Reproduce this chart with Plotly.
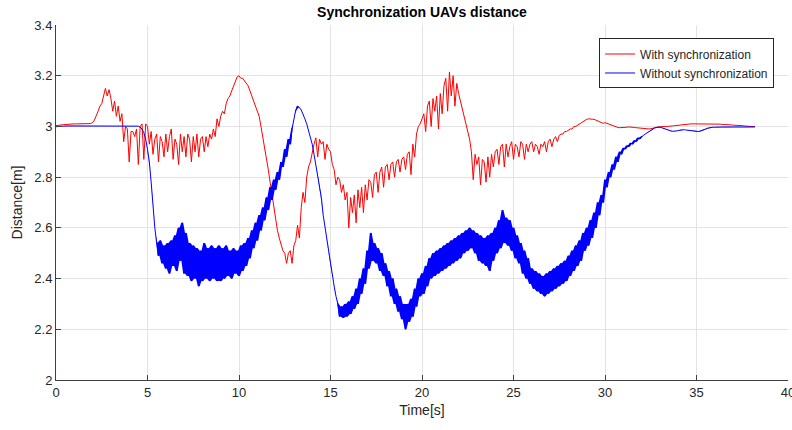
import numpy as np
import plotly.graph_objects as go

# ---------------- data (one row per second, 0.1 s sampling) ----------------
red_rows = [
    [3.003, 3.005, 3.006, 3.006, 3.007, 3.008, 3.008, 3.009, 3.009, 3.01],      # 0
    [3.01, 3.01, 3.01, 3.009, 3.009, 3.01, 3.01, 3.01, 3.011, 3.012],           # 1
    [3.015, 3.025, 3.04, 3.06, 3.08, 3.09, 3.12, 3.15, 3.12, 3.145],            # 2
    [3.11, 3.06, 3.1, 3.04, 3.08, 3.02, 3.05, 2.94, 3.0, 2.99],                 # 3
    [2.86, 2.98, 2.98, 2.96, 2.99, 2.85, 3.0, 3.01, 2.87, 3.01],                # 4
    [3.0, 2.93, 2.98, 2.89, 2.95, 2.97, 2.86, 2.96, 2.94, 2.88],                # 5
    [2.97, 2.9, 2.96, 2.99, 2.87, 2.95, 2.93, 2.85, 2.97, 2.9],                 # 6
    [2.96, 2.88, 2.97, 2.95, 2.86, 2.96, 2.9, 2.97, 2.88, 2.95],                # 7
    [2.96, 2.9, 2.96, 2.92, 2.97, 2.95, 2.99, 2.96, 3.03, 3.0],                 # 8
    [3.04, 3.06, 3.05, 3.09, 3.11, 3.12, 3.14, 3.16, 3.18, 3.195],              # 9
    [3.2, 3.19, 3.19, 3.18, 3.17, 3.16, 3.14, 3.12, 3.1, 3.08],                 # 10
    [3.065, 3.04, 3.0, 2.96, 2.91, 2.87, 2.83, 2.78, 2.73, 2.68],               # 11
    [2.64, 2.59, 2.56, 2.53, 2.51, 2.5, 2.46, 2.5, 2.51, 2.46],                 # 12
    [2.53, 2.55, 2.61, 2.56, 2.68, 2.74, 2.7, 2.8, 2.84, 2.86],                 # 13
    [2.9, 2.93, 2.955, 2.88, 2.95, 2.93, 2.94, 2.87, 2.93, 2.91],               # 14
    [2.9, 2.85, 2.83, 2.77, 2.8, 2.79, 2.74, 2.77, 2.71, 2.74],                 # 15
    [2.6, 2.72, 2.66, 2.73, 2.62, 2.75, 2.68, 2.76, 2.66, 2.77],                # 16
    [2.71, 2.79, 2.78, 2.72, 2.81, 2.82, 2.74, 2.82, 2.84, 2.76],               # 17
    [2.84, 2.85, 2.79, 2.85, 2.86, 2.8, 2.86, 2.87, 2.82, 2.87],                # 18
    [2.88, 2.83, 2.89, 2.9, 2.81, 2.93, 2.88, 2.97, 3.0, 3.01],                 # 19
    [3.03, 3.05, 2.98, 3.08, 3.1, 3.0, 3.11, 3.06, 3.12, 2.99],                 # 20
    [3.13, 3.05, 3.16, 3.19, 3.06, 3.215, 3.12, 3.2, 3.08, 3.17],               # 21
    [3.13, 3.1, 3.07, 3.04, 3.0, 2.97, 2.95, 2.9, 2.79, 2.89],                  # 22
    [2.85, 2.88, 2.77, 2.87, 2.86, 2.78, 2.88, 2.8, 2.89, 2.84],                # 23
    [2.9, 2.91, 2.85, 2.92, 2.93, 2.84, 2.93, 2.88, 2.92, 2.94],                # 24
    [2.87, 2.93, 2.92, 2.88, 2.94, 2.93, 2.87, 2.93, 2.9, 2.93],                # 25
    [2.94, 2.9, 2.93, 2.92, 2.89, 2.93, 2.92, 2.94, 2.9, 2.94],                 # 26
    [2.95, 2.92, 2.95, 2.96, 2.94, 2.965, 2.97, 2.97, 2.98, 2.98],              # 27
    [2.985, 2.99, 2.99, 3.0, 3.0, 3.005, 3.01, 3.015, 3.02, 3.025],             # 28
    [3.028, 3.03, 3.03, 3.03, 3.028, 3.025, 3.022, 3.02, 3.016, 3.012],         # 29
    [3.015, 3.012, 3.009, 3.006, 3.003, 3.0, 2.998, 2.996, 2.995, 2.995],       # 30
    [2.995, 2.996, 2.997, 2.998, 2.998, 2.997, 2.996, 2.995, 2.994, 2.993],     # 31
    [2.992, 2.991, 2.99, 2.99, 2.99, 2.991, 2.992, 2.994, 2.996, 2.998],        # 32
    [2.999, 3.0, 3.0, 3.0, 3.0, 3.0, 3.001, 3.002, 3.003, 3.004],               # 33
    [3.005, 3.006, 3.007, 3.008, 3.009, 3.01, 3.01, 3.01, 3.01, 3.01],          # 34
    [3.01, 3.01, 3.01, 3.011, 3.011, 3.011, 3.011, 3.011, 3.01, 3.01],          # 35
    [3.01, 3.01, 3.009, 3.009, 3.008, 3.008, 3.007, 3.007, 3.006, 3.006],       # 36
    [3.005, 3.005, 3.004, 3.004, 3.003, 3.003, 3.002, 3.001, 3.0, 2.999],       # 37
    [2.998, 2.999, 3.0],                                                        # 38
]

blue_rows = [
    [2.999, 3.0, 3.001, 3.001, 3.002, 3.002, 3.002, 3.002, 3.002, 3.002],       # 0
    [3.002, 3.003, 3.002, 3.003, 3.003, 3.002, 3.003, 3.002, 3.003, 3.002],     # 1
    [3.003, 3.002, 3.003, 3.002, 3.003, 3.003, 3.002, 3.003, 3.002, 3.003],     # 2
    [3.002, 3.003, 3.002, 3.003, 3.002, 3.003, 3.002, 3.003, 3.003, 3.002],     # 3
    [3.002, 3.003, 3.002, 3.003, 3.002, 3.001, 2.997, 2.99, 2.975, 2.95],       # 4
    [2.91, 2.86, 2.78, 2.68, 2.6, 2.54, 2.49, 2.55, 2.46, 2.53],                # 5
    [2.44, 2.54, 2.42, 2.55, 2.45, 2.57, 2.43, 2.6, 2.47, 2.62],                # 6
    [2.42, 2.58, 2.41, 2.54, 2.39, 2.53, 2.4, 2.52, 2.37, 2.51],                # 7
    [2.39, 2.54, 2.4, 2.52, 2.39, 2.53, 2.4, 2.52, 2.39, 2.53],                 # 8
    [2.39, 2.52, 2.4, 2.53, 2.41, 2.51, 2.4, 2.52, 2.42, 2.51],                 # 9
    [2.41, 2.53, 2.43, 2.54, 2.45, 2.56, 2.48, 2.59, 2.52, 2.62],               # 10
    [2.55, 2.65, 2.59, 2.68, 2.63, 2.72, 2.67, 2.76, 2.71, 2.79],               # 11
    [2.75, 2.82, 2.79, 2.86, 2.84, 2.91, 2.88, 2.95, 2.93, 2.99],               # 12
    [3.03, 3.065, 3.08, 3.075, 3.065, 3.05, 3.03, 3.01, 2.985, 2.96],           # 13
    [2.93, 2.89, 2.85, 2.81, 2.77, 2.72, 2.65, 2.6, 2.55, 2.5],                 # 14
    [2.45, 2.41, 2.37, 2.33, 2.3, 2.25, 2.29, 2.245, 2.3, 2.25],                # 15
    [2.31, 2.26, 2.33, 2.28, 2.36, 2.3, 2.4, 2.34, 2.44, 2.38],                 # 16
    [2.51, 2.44, 2.58, 2.47, 2.54, 2.46, 2.52, 2.43, 2.5, 2.41],                # 17
    [2.46, 2.37, 2.43, 2.33, 2.4, 2.3, 2.36, 2.27, 2.33, 2.24],                 # 18
    [2.3, 2.2, 2.3, 2.23, 2.32, 2.25, 2.36, 2.29, 2.4, 2.33],                   # 19
    [2.42, 2.34, 2.45, 2.37, 2.48, 2.4, 2.5, 2.41, 2.51, 2.42],                 # 20
    [2.52, 2.43, 2.53, 2.44, 2.54, 2.45, 2.55, 2.46, 2.56, 2.47],               # 21
    [2.57, 2.48, 2.58, 2.5, 2.59, 2.51, 2.6, 2.52, 2.59, 2.5],                  # 22
    [2.58, 2.47, 2.57, 2.46, 2.56, 2.45, 2.57, 2.43, 2.58, 2.47],               # 23
    [2.6, 2.5, 2.63, 2.52, 2.67, 2.54, 2.64, 2.53, 2.63, 2.51],                 # 24
    [2.6, 2.48, 2.57, 2.46, 2.54, 2.42, 2.51, 2.4, 2.48, 2.38],                 # 25
    [2.44, 2.36, 2.43, 2.35, 2.42, 2.34, 2.41, 2.33, 2.42, 2.34],               # 26
    [2.43, 2.35, 2.44, 2.36, 2.45, 2.37, 2.46, 2.38, 2.47, 2.39],               # 27
    [2.49, 2.41, 2.51, 2.43, 2.53, 2.45, 2.55, 2.47, 2.58, 2.51],               # 28
    [2.6, 2.53, 2.63, 2.56, 2.66, 2.6, 2.7, 2.65, 2.73, 2.7],                   # 29
    [2.79, 2.76, 2.82, 2.8, 2.85, 2.83, 2.88, 2.86, 2.9, 2.89],                 # 30
    [2.915, 2.91, 2.925, 2.92, 2.935, 2.93, 2.945, 2.94, 2.955, 2.95],          # 31
    [2.96, 2.965, 2.97, 2.975, 2.98, 2.985, 2.99, 2.993, 2.996, 2.997],         # 32
    [2.997, 2.995, 2.992, 2.99, 2.987, 2.984, 2.982, 2.981, 2.981, 2.982],      # 33
    [2.984, 2.986, 2.987, 2.987, 2.986, 2.985, 2.984, 2.982, 2.981, 2.98],      # 34
    [2.98, 2.98, 2.981, 2.983, 2.986, 2.99, 2.993, 2.995, 2.996, 2.997],        # 35
    [2.997, 2.998, 2.998, 2.998, 2.998, 2.998, 2.998, 2.998, 2.998, 2.997],     # 36
    [2.997, 2.997, 2.996, 2.996, 2.996, 2.996, 2.996, 2.997, 2.997, 2.997],     # 37
    [2.997, 2.998, 2.998],                                                      # 38
]

sample_step = 0.1
x_ticks = [0, 5, 10, 15, 20, 25, 30, 35, 40]
x_tick_text = ["0", "5", "10", "15", "20", "25", "30", "35", "40"]
y_ticks = [2.0, 2.2, 2.4, 2.6, 2.8, 3.0, 3.2, 3.4]
y_tick_text = ["2", "2.2", "2.4", "2.6", "2.8", "3", "3.2", "3.4"]


def rows_to_xy(rows):
    xs, ys = [], []
    for sec, row in enumerate(rows):
        for i, v in enumerate(row):
            xs.append(round(sec + i * sample_step, 2))
            ys.append(v)
    return xs, ys


red_t, red_v = rows_to_xy(red_rows)
blue_t, blue_v = rows_to_xy(blue_rows)

# The blue signal oscillates densely: shade the band it sweeps, only where it oscillates
bt = np.array(blue_t)
bv = np.array(blue_v)
d = np.diff(bv)
turn = np.zeros(len(bv), dtype=bool)
turn[1:-1] = (d[:-1] * d[1:]) < 0
seg_osc = turn[:-1] | turn[1:]
mid_t = (bt[:-1] + bt[1:]) / 2
mid_v = (bv[:-1] + bv[1:]) / 2
band_hi = np.where(seg_osc, np.maximum(bv[:-1], bv[1:]), mid_v)
band_lo = np.where(seg_osc, np.minimum(bv[:-1], bv[1:]), mid_v)
band_x = np.concatenate([mid_t, mid_t[::-1]])
band_y = np.concatenate([band_hi, band_lo[::-1]])

FONT = "Liberation Sans, Arial, Helvetica, sans-serif"
TXT = "#262626"
AX = "#404040"
GRID = "#e3e3e3"

fig = go.Figure()
fig.add_trace(go.Scatter(x=red_t, y=red_v, mode="lines", name="With synchronization",
                         line=dict(color="#ff0000", width=1)))
fig.add_trace(go.Scatter(x=band_x, y=band_y, mode="lines", fill="toself", fillcolor="#0000ff",
                         line=dict(color="#0000ff", width=0), showlegend=False, hoverinfo="skip"))
fig.add_trace(go.Scatter(x=blue_t, y=blue_v, mode="lines", name="Without synchronization",
                         line=dict(color="#0000ff", width=1)))

fig.update_layout(
    width=792, height=430,
    margin=dict(l=56, r=4, t=25, b=50, autoexpand=False),
    paper_bgcolor="white", plot_bgcolor="white",
    font=dict(family=FONT, size=13, color=TXT),
    title=dict(text="<b>Synchronization UAVs distance</b>", x=(56 + 366) / 792, xanchor="center",
               y=1 - 12 / 430, yanchor="middle", font=dict(size=14, color="#000000")),
    showlegend=True,
    legend=dict(x=0.981, xanchor="right", y=0.962, yanchor="top",
                bgcolor="white", bordercolor=TXT, borderwidth=1,
                font=dict(size=12, color=TXT), itemwidth=30,
                tracegroupgap=0),
)
fig.update_xaxes(range=[0, 40], tickvals=x_ticks, ticktext=x_tick_text,
                 showgrid=True, gridcolor=GRID, gridwidth=1,
                 showline=True, linecolor=AX, linewidth=1,
                 ticks="inside", ticklen=5, tickcolor=AX,
                 ticklabeloverflow="allow", automargin=False,
                 zeroline=False, tickfont=dict(size=13, color=TXT),
                 title=dict(text="Time[s]", font=dict(size=14, color=TXT), standoff=6))
fig.update_yaxes(range=[2, 3.4], tickvals=y_ticks, ticktext=y_tick_text,
                 showgrid=True, gridcolor=GRID, gridwidth=1,
                 showline=True, linecolor=AX, linewidth=1,
                 ticks="inside", ticklen=5, tickcolor=AX,
                 automargin=False,
                 zeroline=False, tickfont=dict(size=13, color=TXT),
                 title=dict(text="Distance[m]", font=dict(size=14, color=TXT), standoff=8))

fig.write_html("out.html")
